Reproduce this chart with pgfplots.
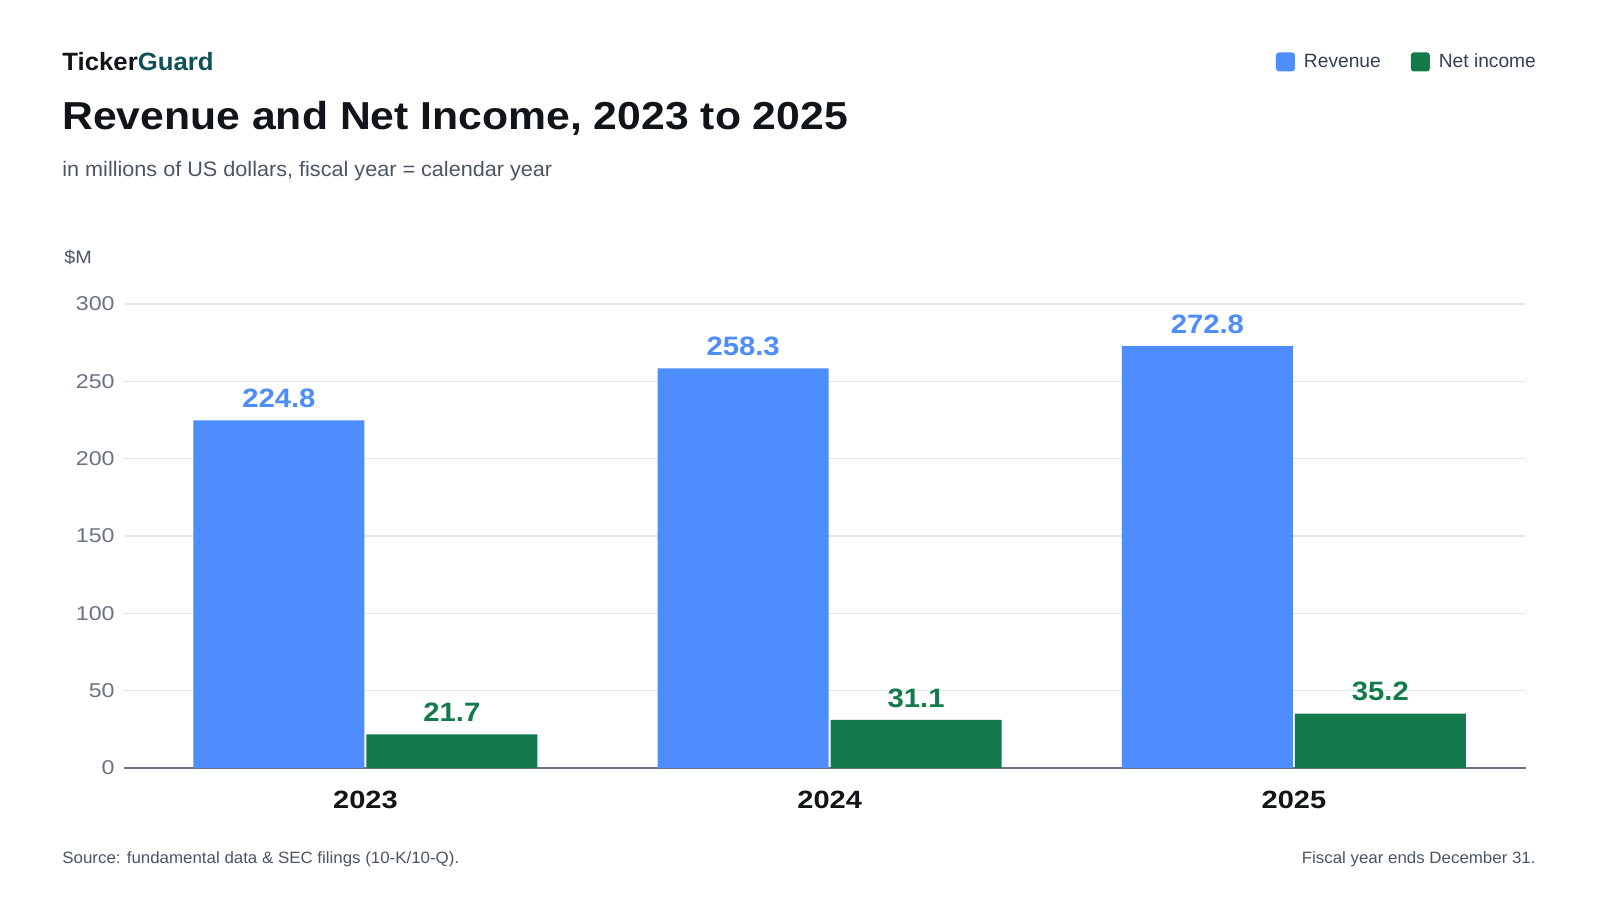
\documentclass[border=0pt]{standalone}
\usepackage{pgfplots}
\pgfplotsset{compat=1.18}
\usepackage{fontspec}
\setmainfont{Liberation Sans}[FakeStretch=1.03]
\setsansfont{Liberation Sans}[FakeStretch=1.03]
\newfontfamily\titlefont{Liberation Sans}[FakeStretch=1.095]
\newfontfamily\valfont{Liberation Sans}[FakeStretch=1.1]
\newfontfamily\numfont{Liberation Sans}[FakeStretch=1.16]
\newfontfamily\legfont{Liberation Sans}
\definecolor{blueC}{HTML}{4D8DFE}
\definecolor{greenC}{HTML}{137A4B}
\definecolor{gridC}{HTML}{E5E7EB}
\definecolor{baseC}{HTML}{6B7280}
\definecolor{tickC}{HTML}{6B7280}
\definecolor{titleC}{HTML}{111418}
\definecolor{subC}{HTML}{4B5563}
\definecolor{legC}{HTML}{334155}
\definecolor{tealC}{HTML}{0F5156}
\begin{document}
\begin{tikzpicture}
\useasboundingbox[fill=white] (0,0) rectangle (800pt,450pt);
\node[anchor=base west, inner sep=0, font=\bfseries\fontsize{12.5}{14}\selectfont] at (31pt,414.5pt) {\textcolor{titleC}{Ticker}\textcolor{tealC}{Guard}};
\node[anchor=base west, inner sep=0, font=\titlefont\bfseries\fontsize{19.5}{22}\selectfont, text=titleC] at (31pt,385pt) {Revenue and Net Income, 2023 to 2025};
\node[anchor=base west, inner sep=0, font=\fontsize{10.5}{12}\selectfont, text=subC] at (31pt,361.5pt) {in millions of US dollars, fiscal year = calendar year};
\node[anchor=base west, inner sep=0, font=\valfont\fontsize{9}{10}\selectfont, text=subC] at (32pt,318pt) {\$M};
\node[anchor=base west, inner sep=0, font=\fontsize{8.2}{10}\selectfont, text=subC] at (31pt,18.5pt) {Source: fundamental data \& SEC filings (10-K/10-Q).};
\node[anchor=base east, inner sep=0, font=\fontsize{8.2}{10}\selectfont, text=subC] at (768pt,18.5pt) {Fiscal year ends December 31.};
\begin{axis}[
  at={(62pt,66pt)}, anchor=south west,
  scale only axis, width=701pt, height=232pt,
  xmin=-0.52, xmax=2.5, ymin=0, ymax=300,
  enlargelimits=false, clip=false,
  ybar=1pt, bar width=85.5pt,
  xtick={0,1,2}, xticklabels={2023,2024,2025},
  ytick={0,50,100,150,200,250,300},
  major tick length=0pt,
  axis x line*=bottom, axis y line*=left,
  x axis line style={draw=baseC, line width=1pt, -},
  y axis line style={draw=none},
  ymajorgrids, grid style={draw=gridC, line width=0.8pt},
  xticklabel style={font=\numfont\bfseries\fontsize{12.5}{14}\selectfont, text=titleC, anchor=base, yshift=-20pt},
  yticklabel style={font=\numfont\fontsize{10}{12}\selectfont, text=tickC, anchor=east, inner sep=0pt, xshift=-4.5pt},
  /pgf/number format/assume math mode=true,
  legend columns=2,
  legend style={at={(1.0145,1.558)}, anchor=north east, draw=none, fill=none,
    font=\legfont\fontsize{9.6}{12}\selectfont, text=legC,
    /tikz/every even column/.append style={column sep=13pt}},
  nodes near coords={\pgfmathprintnumber[fixed,fixed zerofill,precision=1,assume math mode=true]{\pgfplotspointmeta}},
]
\addplot[fill=blueC, draw=none,
  nodes near coords style={font=\valfont\bfseries\fontsize{13.3}{15}\selectfont, text=blueC, anchor=base, yshift=6.3pt},
  legend image code/.code={\fill[blueC, rounded corners=1.5pt] (0pt,-4.75pt) rectangle (9.5pt,4.75pt);\path (12pt,0pt);}]
  coordinates {(0,224.8) (1,258.3) (2,272.8)};
\addplot[fill=greenC, draw=none,
  nodes near coords style={font=\valfont\bfseries\fontsize{13.3}{15}\selectfont, text=greenC, anchor=base, yshift=6.3pt},
  legend image code/.code={\fill[greenC, rounded corners=1.5pt] (0pt,-4.75pt) rectangle (9.5pt,4.75pt);\path (12pt,0pt);}]
  coordinates {(0,21.7) (1,31.1) (2,35.2)};
\legend{Revenue, Net income}
\end{axis}
\end{tikzpicture}
\end{document}
